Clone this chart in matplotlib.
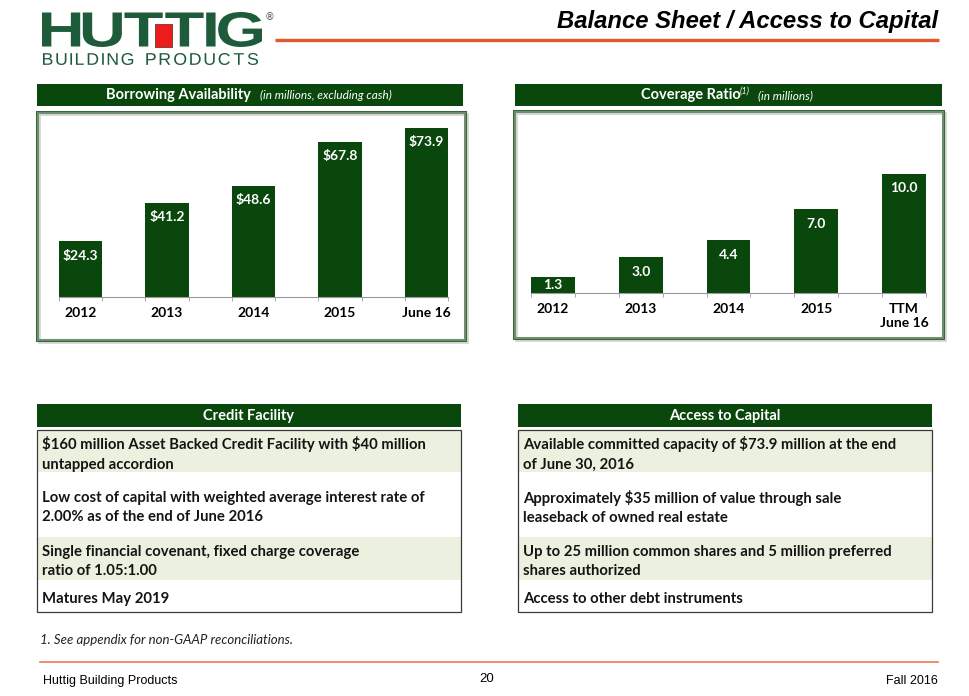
import matplotlib
matplotlib.use('Agg')
import matplotlib.pyplot as plt
from matplotlib.patches import Rectangle, PathPatch
from matplotlib.textpath import TextPath
from matplotlib.font_manager import FontProperties
from matplotlib.transforms import Affine2D
from matplotlib.path import Path

plt.rcParams['font.family'] = ['Lato', 'DejaVu Sans']
plt.rcParams['text.parse_math'] = False

## data ---------
avail_labels = ['2012', '2013', '2014', '2015', 'June 16']
avail_values = [24.3, 41.2, 48.6, 67.8, 73.9]

cov_labels = ['2012', '2013', '2014', '2015', 'TTM\nJune 16']
cov_values = [1.3, 3.0, 4.4, 7.0, 10.0]

credit_rows = ['$160 million Asset Backed Credit Facility with $40 million\nuntapped accordion',
               'Low cost of capital with weighted average interest rate of\n2.00% as of the end of June 2016',
               'Single financial covenant, fixed charge coverage\nratio of 1.05:1.00',
               'Matures May 2019']
access_rows = ['Available committed capacity of $73.9 million at the end\nof June 30, 2016',
               'Approximately $35 million of value through sale\nleaseback of owned real estate',
               'Up to 25 million common shares and 5 million preferred\nshares authorized',
               'Access to other debt instruments']

GREEN = '#0A470C'
LOGO = '#1E5B3A'
ORANGE = '#E4572E'
SHADE = '#EBF1DE'
W, H = 970, 696

fig = plt.figure(figsize=(W / 100, H / 100), dpi=100)
bg = fig.add_axes([0, 0, 1, 1])
bg.set_xlim(0, W)
bg.set_ylim(H, 0)
bg.axis('off')


def px_axes(x0, y0, x1, y1):
    # pixel box (y down) -> axes
    return fig.add_axes([x0 / W, 1 - y1 / H, (x1 - x0) / W, (y1 - y0) / H])


def tracked_path(text, fp, track):
    verts, codes = [], []
    x = 0
    for ch in text:
        if ch == ' ':
            x += 0.3 + track
            continue
        tp = TextPath((0, 0), ch, size=1, prop=fp)
        ext = tp.get_extents()
        p = tp.transformed(Affine2D().translate(x - ext.x0, 0))
        verts.extend(p.vertices)
        codes.extend(p.codes)
        x += ext.width + track
    return Path(verts, codes)


def fit_path(tp, x0, y0, x1, y1, color):
    ext = tp.get_extents()
    tr = Affine2D().translate(-ext.x0, -ext.y0).scale((x1 - x0) / ext.width, -(y1 - y0) / ext.height).translate(x0, y1)
    bg.add_patch(PathPatch(tr.transform_path(tp), color=color, lw=0))


## logo + title ---------
fit_path(tracked_path('HUTTIG', FontProperties(family='Liberation Sans', weight='bold'), 0.04),
         42, 12, 262, 47, LOGO)
bg.add_patch(Rectangle((155, 24), 17, 23, fc='#EE1C1C', ec='#6A3A2A', lw=0.6))
fit_path(tracked_path('BUILDING PRODUCTS', FontProperties(family='Liberation Sans'), 0.22),
         43, 53, 258, 65, LOGO)
bg.text(270, 17, '®', fontsize=7, color='#555555', ha='center', va='center', family='DejaVu Sans')
bg.plot([275, 939], [40, 40], color=ORANGE, lw=2.4, solid_capstyle='butt')
bg.text(938, 28, 'Balance Sheet / Access to Capital', fontsize=17.2, fontweight='bold', style='italic',
        family='Liberation Sans', ha='right', va='baseline', color='black')

## chart headers and frames ---------
bg.add_patch(Rectangle((37, 84), 426, 22, color=GREEN, lw=0))
bg.text(106, 95.5, 'Borrowing Availability', color='white', fontsize=10.5, fontweight='bold', va='center')
bg.text(260, 95.5, '(in millions, excluding cash)', color='white', fontsize=8.5, style='italic', va='center')
bg.add_patch(Rectangle((515, 84), 427, 22, color=GREEN, lw=0))
bg.text(641, 95.5, 'Coverage Ratio', color='white', fontsize=10.5, fontweight='bold', va='center')
bg.text(740, 91, '(1)', color='white', fontsize=6.5, style='italic', va='center')
bg.text(758, 95.5, '(in millions)', color='white', fontsize=8.5, style='italic', va='center')

for (x0, y0, x1, y1) in [(37, 112, 465, 340), (514, 111, 943, 338)]:
    bg.add_patch(Rectangle((x0 + 2, y0 + 2), x1 - x0, y1 - y0, fill=False, ec='#D5D5D5', lw=2))
    bg.add_patch(Rectangle((x0, y0), x1 - x0, y1 - y0, fill=False, ec='#6E8F6E', lw=2.2))
    bg.add_patch(Rectangle((x0 - 1, y0 - 1), x1 - x0 + 2, y1 - y0 + 2, fill=False, ec='#2F5E2F', lw=0.6))


def bar_chart(ax, labels, values, fmt, px_per_unit):
    x = range(len(values))
    ax.bar(x, values, width=0.5, color=GREEN)
    for i, v in enumerate(values):
        yy = max(v - 14.5 / px_per_unit, v / 2)
        ax.text(i, yy, fmt.format(v), color='white', fontweight='bold', fontsize=10,
                ha='center', va='center')
    ax.set_xlim(-0.25, len(values) - 0.75)
    ax.set_xticks(list(x))
    ax.set_xticklabels(labels, fontweight='bold', fontsize=10)
    ax.set_xticks([i + d for i in x for d in (-0.25, 0.25)], minor=True)
    ax.tick_params(axis='x', which='major', length=0, pad=7)
    ax.tick_params(axis='x', which='minor', length=3, color='#9A9A9A')
    ax.set_yticks([])
    for s in ['top', 'right', 'left']:
        ax.spines[s].set_visible(False)
    ax.spines['bottom'].set_color('#9A9A9A')
    ax.patch.set_alpha(0)


ax1 = px_axes(59, 114, 448, 297)
ax1.set_ylim(0, 80)
bar_chart(ax1, avail_labels, avail_values, '${:.1f}', 183 / 80)

ax2 = px_axes(531, 114, 926, 293)
ax2.set_ylim(0, 15)
bar_chart(ax2, cov_labels, cov_values, '{:.1f}', 179 / 15)

## tables ---------
row_edges = [430, 472, 537, 580, 612]


def table(x0, x1, title, rows):
    bg.add_patch(Rectangle((x0, 404), x1 - x0, 23, color=GREEN, lw=0))
    bg.text((x0 + x1) / 2, 416, title, color='white', fontsize=10.5, fontweight='bold', ha='center', va='center')
    for i, txt in enumerate(rows):
        top, bot = row_edges[i], row_edges[i + 1]
        if i % 2 == 0:
            bg.add_patch(Rectangle((x0, top), x1 - x0, bot - top, color=SHADE, lw=0))
        bg.text(x0 + 5, (top + bot) / 2 + 3, txt, fontsize=10.7, fontweight='bold', color='#141414',
                va='center', ha='left', linespacing=1.5)
    bg.add_patch(Rectangle((x0, row_edges[0]), x1 - x0, row_edges[-1] - row_edges[0], fill=False,
                           ec='#3A3A3A', lw=0.9))


table(37, 461, 'Credit Facility', credit_rows)
table(518, 932, 'Access to Capital', access_rows)

## footer ---------
bg.text(40, 640, '1. See appendix for non-GAAP reconciliations.', fontsize=9.5, style='italic',
        color='#222222', va='center')
bg.plot([40, 938], [662, 662], color=ORANGE, lw=1.2, alpha=0.8)
foot = ['Liberation Sans']
bg.text(43, 681, 'Huttig Building Products', fontsize=9, family=foot, va='center')
bg.text(487, 679, '20', fontsize=9.5, family=foot, va='center', ha='center')
bg.text(938, 681, 'Fall 2016', fontsize=9, family=foot, va='center', ha='right')

plt.savefig('out.png', dpi=100)
